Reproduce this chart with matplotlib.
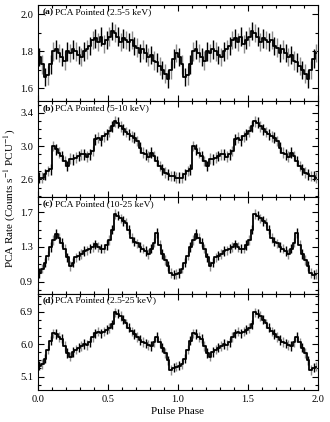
import matplotlib
matplotlib.use("Agg")
import matplotlib.pyplot as plt
from matplotlib.ticker import MultipleLocator, AutoMinorLocator
import numpy as np

plt.rcParams['font.family'] = ['Liberation Serif', 'DejaVu Serif']
plt.rcParams['mathtext.fontset'] = 'stix'

# one pulse cycle, bins of 0.02 in phase (shown twice)
rate_a = [1.77, 1.73, 1.66, 1.67, 1.73, 1.80, 1.81, 1.79, 1.77, 1.75,
          1.80, 1.79, 1.81, 1.80, 1.78, 1.77, 1.80, 1.81, 1.83, 1.86,
          1.87, 1.85, 1.88, 1.84, 1.86, 1.88, 1.91, 1.90, 1.88, 1.85,
          1.87, 1.86, 1.85, 1.86, 1.83, 1.82, 1.79, 1.81, 1.79, 1.77,
          1.78, 1.75, 1.74, 1.72, 1.70, 1.68, 1.65, 1.70, 1.76, 1.79]
rate_b = [2.62, 2.62, 2.66, 2.70, 2.72, 3.00, 2.96, 2.92, 2.88, 2.82,
          2.76, 2.85, 2.84, 2.86, 2.88, 2.90, 2.90, 2.87, 2.90, 2.94,
          3.08, 3.10, 3.07, 3.12, 3.14, 3.18, 3.24, 3.30, 3.28, 3.24,
          3.20, 3.17, 3.14, 3.12, 3.10, 3.06, 2.98, 2.92, 2.90, 2.87,
          2.92, 2.88, 2.82, 2.76, 2.72, 2.68, 2.66, 2.64, 2.64, 2.62]
rate_c = [1.00, 1.05, 1.12, 1.20, 1.30, 1.38, 1.45, 1.40, 1.35, 1.28,
          1.18, 1.08, 1.12, 1.18, 1.20, 1.22, 1.25, 1.26, 1.28, 1.30,
          1.33, 1.30, 1.28, 1.28, 1.32, 1.38, 1.50, 1.68, 1.66, 1.63,
          1.60, 1.58, 1.50, 1.40, 1.36, 1.34, 1.30, 1.28, 1.25, 1.22,
          1.28, 1.35, 1.46, 1.32, 1.22, 1.15, 1.08, 1.00, 0.98, 0.99]
rate_d = [5.40, 5.45, 5.60, 5.85, 6.10, 6.30, 6.28, 6.20, 6.15, 5.95,
          5.75, 5.65, 5.78, 5.85, 5.90, 5.95, 6.00, 5.98, 6.05, 6.20,
          6.30, 6.35, 6.30, 6.35, 6.40, 6.45, 6.55, 6.88, 6.85, 6.78,
          6.68, 6.58, 6.46, 6.36, 6.28, 6.20, 6.12, 6.06, 6.02, 5.98,
          5.95, 6.05, 6.20, 6.05, 5.90, 5.75, 5.55, 5.28, 5.35, 5.38]

errors = [0.05, 0.065, 0.055, 0.13]
labels = ['(a)', '(b)', '(c)', '(d)']
bands = ['PCA Pointed (2.5-5 keV)', 'PCA Pointed (5-10 keV)',
         'PCA Pointed (10-25 keV)', 'PCA Pointed (2.5-25 keV)']
ylims = [(1.53, 2.05), (2.38, 3.54), (0.76, 1.87), (4.73, 7.40)]
yticks = [[1.6, 1.8, 2.0], [2.6, 3.0, 3.4], [0.9, 1.3, 1.7], [5.1, 6.0, 6.9]]
yminor = [2, 4, 4, 4]
profiles = [rate_a, rate_b, rate_c, rate_d]

fig, axes = plt.subplots(4, 1, figsize=(3.3, 4.22), dpi=100, sharex=True)
plt.subplots_adjust(left=0.115, right=0.963, top=0.988, bottom=0.076, hspace=0)

for i, ax in enumerate(axes):
    prof = np.array(profiles[i] * 2)
    phase = np.arange(len(prof)) * 0.02 + 0.01
    err = errors[i]
    even = np.arange(len(prof)) % 2 == 0
    ax.errorbar(phase[~even], prof[~even], yerr=err, fmt='none',
                ecolor='0.55', elinewidth=1.0)
    ax.errorbar(phase[even], prof[even], yerr=err, fmt='none',
                ecolor='black', elinewidth=1.0)
    ax.plot(phase, prof, drawstyle='steps-mid', color='black', lw=1.3)
    ax.set_xlim(0, 2)
    ax.set_ylim(*ylims[i])
    ax.set_yticks(yticks[i])
    ax.set_yticklabels(['%.1f' % t for t in yticks[i]])
    ax.yaxis.set_minor_locator(AutoMinorLocator(yminor[i]))
    ax.xaxis.set_major_locator(MultipleLocator(0.5))
    ax.xaxis.set_minor_locator(MultipleLocator(0.1))
    ax.tick_params(which='both', direction='in', top=True, right=True,
                   labelsize=7.5, width=0.8)
    ax.tick_params(which='major', length=4)
    ax.tick_params(which='minor', length=2)
    for s in ax.spines.values():
        s.set_linewidth(0.8)
    ax.text(0.018, 0.93, labels[i], transform=ax.transAxes, fontsize=6.8,
            fontweight='bold', va='center')
    ax.text(0.06, 0.93, bands[i], transform=ax.transAxes, fontsize=6.8,
            va='center')

axes[-1].set_xticks([0.0, 0.5, 1.0, 1.5, 2.0])
axes[-1].set_xticklabels(['0.0', '0.5', '1.0', '1.5', '2.0'])
axes[-1].set_xlabel('Pulse Phase', fontsize=8, labelpad=2)
fig.text(0.03, 0.53, 'PCA Rate (Counts s$^{-1}$ PCU$^{-1}$)', rotation=90,
         fontsize=8, ha='center', va='center')

fig.savefig('out.png', dpi=100)
